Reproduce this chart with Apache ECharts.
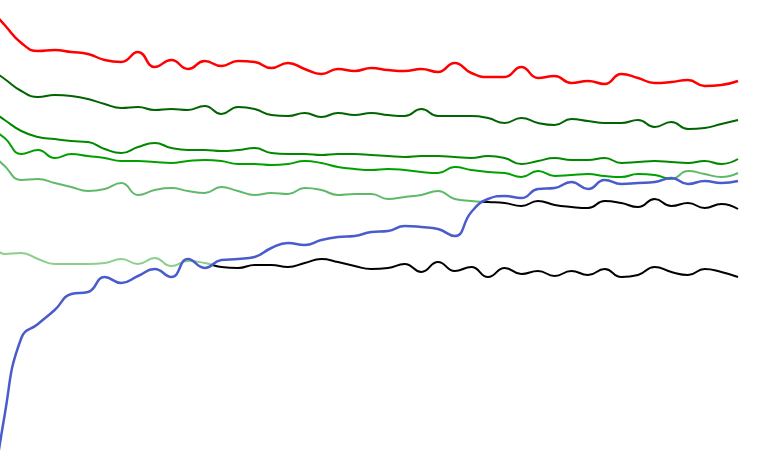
<!DOCTYPE html>
<html><head><meta charset="utf-8">
<script src="https://cdn.jsdelivr.net/npm/echarts@6/dist/echarts.min.js"></script>
<style>html,body{margin:0;padding:0;background:#fff}#c{width:773px;height:460px}</style>
</head><body><div id="c"></div>
<script>
const years = [1970,1971,1972,1973,1974,1975,1976,1977,1978,1979,1980,1981,1982,1983,1984,1985,1986,1987,1988,1989,1990,1991,1992,1993,1994,1995,1996,1997,1998,1999,2000,2001,2002,2003,2004,2005,2006,2007,2008,2009,2010,2011,2012,2013,2014,2015];

const redLine = [90.8,87,83.4,81.8,82,81.6,81.2,80,79.6,81.6,78.6,80,78.2,79.8,78.8,79.8,79.6,78.4,79.4,78.2,77.2,78.2,77.8,78.4,78,77.8,78.2,77.6,79.4,77.4,76.6,76.6,78.6,76.4,76.8,75.4,75.8,75.2,77.2,76.4,75.4,75.6,76,74.8,75,75.8];
const darkGreenLine = [78.6,76.2,73.8,72.6,73,72.8,72.2,71.2,70.4,70.6,70,70.2,70,70.8,69.2,70.6,70.2,69,68.8,69.4,68.6,69.4,69,69.4,69,68.8,70.2,68.8,68.8,68.8,68.4,67.4,68.4,67.4,67,68.2,67.8,67.4,67.4,68,66.6,67.6,66.2,66.4,67.2,68];
const greenLine = [70.4,68,65.8,64.6,64.2,63.8,63.6,62.2,61.4,62.6,63.4,62.4,62,62,61.8,62,62.4,61.4,61.2,61.2,61,61.2,61.2,61,60.8,60.6,60.8,60.8,60.6,60.4,60.8,60.4,59.2,59.8,60.4,60,60,60.4,59.4,59.6,59.8,59.6,59.4,59.8,59.2,60.2];
const brightGreenLine = [66.6,64.4,61.2,62,60.4,61.2,60.8,60.4,59.8,59.8,59.6,59.4,59.8,60,59.8,59.2,59.2,59,59.2,59.8,59.4,58.6,58.2,58,58.2,58,57.6,57.4,58.6,58,57.6,57.4,56.6,57.8,56.8,57,57.2,56.8,56.6,57.2,57,56.2,57.8,57.2,56.6,57.4];
const mediumGreenLine = [62.2,58.8,56,56.2,55.4,54.6,53.8,54.2,55.4,53,54,54.4,53.8,53.4,54.6,53.8,53,53.4,53.2,54.4,54,53,53.2,53.2,52.2,52.6,53,53.8,52.2,51.8,51.6,51.4,50.8,51.8,51,50.6,50.4,51.8,51.4,50.6,52.2,50.8,51.4,50.4,51.2,50.2];
const lightGreenLine = [45.6,41.2,41.4,40.2,39.2,39.2,39.2,39.4,40.2,39.2,40.4,38.8,39.8,39.4,38.6,38.4,39,39,38.6,39.4,40.2,39.6,38.8,38.2,38.4,39.2,37.6,39.6,37.8,38.6,36.6,38.4,37.2,37.8,36.8,37.8,37,38.2,36.6,37,38.6,37.6,37,38.2,37.6,36.6];
const blueLine = [-14,9,24.4,27.2,30,33.2,33.6,36.6,35.4,36.8,38.2,36.6,40.2,38.4,40,40.2,40.6,42.4,43.4,43,44,44.6,44.8,45.6,45.8,46.8,46.6,46.2,44.8,49.6,52.2,52.8,52.4,54.2,54.4,55.6,54.2,56,55.2,55.4,55.6,56.4,55.2,55.8,55.4,55.8];

// year at which a line's colour changes (before -> after)
const switchBright = 2011.0;
const switchMedium = 1999.6;
const switchLight = 1983.45;

function mk(name, vals, color, width) {
  return {
    name: name, type: 'line', smooth: true, showSymbol: false, symbol: 'none',
    data: years.map((y, i) => [y, vals[i]]),
    lineStyle: { color: color, width: width },
    itemStyle: { color: color },
    clip: true
  };
}

const chart = echarts.init(document.getElementById('c'), null, { renderer: 'canvas' });
const baseOption = {
  animation: false,
  backgroundColor: '#ffffff',
  grid: { left: 0, right: 35, top: 0, bottom: 0 },
  xAxis: { type: 'value', min: 1970.72, max: 2015, show: false },
  yAxis: { type: 'value', min: 0, max: 92, show: false },
  series: [
    mk('Red', redLine, '#ff0000', 2.5),
    mk('Dark green', darkGreenLine, '#006400', 2),
    mk('Green', greenLine, '#008800', 2),
    mk('Bright green', brightGreenLine, '#00a000', 2),
    mk('Medium green', mediumGreenLine, '#60b968', 2),
    mk('Light green', lightGreenLine, '#8ccf8c', 2),
    mk('Blue', blueLine, '#4a5ccc', 2.5)
  ]
};
chart.setOption(baseOption);

function split(year, c1, c2) {
  const px = chart.convertToPixel({ gridIndex: 0 }, [year, 0])[0];
  const w = chart.getWidth();
  const t = px / w;
  return new echarts.graphic.LinearGradient(0, 0, w, 0, [
    { offset: 0, color: c1 }, { offset: t, color: c1 },
    { offset: t, color: c2 }, { offset: 1, color: c2 }
  ], true);
}

chart.setOption({
  series: [
    {}, {}, {},
    { lineStyle: { color: split(switchBright, '#00a000', '#60b968') } },
    { lineStyle: { color: split(switchMedium, '#60b968', '#000000') } },
    { lineStyle: { color: split(switchLight, '#8ccf8c', '#000000') } },
    {}
  ]
});
</script></body></html>
